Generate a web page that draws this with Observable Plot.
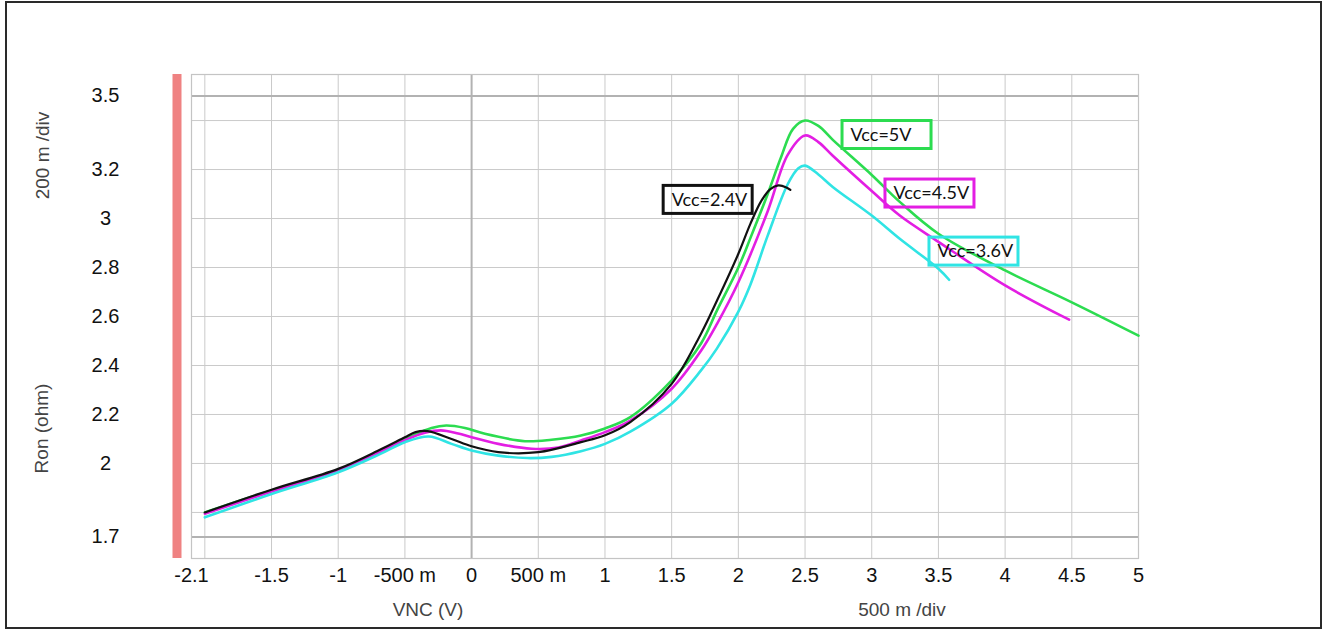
<!DOCTYPE html>
<html><head><meta charset="utf-8">
<script src="https://cdn.jsdelivr.net/npm/d3@7"></script>
<script src="https://cdn.jsdelivr.net/npm/@observablehq/plot@0.6"></script>
<style>
body{margin:0;background:#fff;}
#wrap{position:relative;width:1325px;height:631px;overflow:hidden;}
#border{position:absolute;left:5px;top:1px;width:1313px;height:624px;border:2px solid #2a2a2a;pointer-events:none;}
</style></head><body>
<div id="wrap"><div id="border"></div></div>
<script>
// tick labels
const xTicks = [-2.1, -1.5, -1, -0.5, 0, 0.5, 1, 1.5, 2, 2.5, 3, 3.5, 4, 4.5, 5];
const yTicks = [3.5, 3.2, 3, 2.8, 2.6, 2.4, 2.2, 2, 1.7];
const xGrid = [-2, -1.5, -1, -0.5, 0.5, 1, 1.5, 2, 2.5, 3, 3.5, 4, 4.5];
const yGrid = [3.4, 3.2, 3.0, 2.8, 2.6, 2.4, 2.2, 2.0, 1.8];

// series: Vcc = 5V
const vnc5 = [-2.0, -1.5, -1.0, -0.5, -0.3, -0.19, -0.05, 0.1, 0.4, 0.6, 0.82, 1.0, 1.19, 1.5, 1.72, 1.84, 2.0, 2.09, 2.22, 2.32, 2.41, 2.5, 2.6, 2.71, 3.0, 3.21, 3.5, 4.0, 4.5, 5.0];
const ron5 = [1.80, 1.89, 1.972, 2.10, 2.145, 2.155, 2.145, 2.121, 2.091, 2.097, 2.114, 2.143, 2.189, 2.339, 2.49, 2.625, 2.80, 2.92, 3.10, 3.25, 3.366, 3.40, 3.378, 3.32, 3.178, 3.068, 2.938, 2.788, 2.658, 2.522];
// Vcc = 4.5V
const vnc45 = [-2.0, -1.5, -1.0, -0.5, -0.35, -0.23, -0.1, 0, 0.2, 0.45, 0.65, 0.82, 1.0, 1.19, 1.5, 1.72, 1.84, 2.0, 2.22, 2.37, 2.5, 2.6, 2.71, 3.0, 3.21, 3.5, 4.0, 4.48];
const ron45 = [1.795, 1.885, 1.97, 2.095, 2.125, 2.135, 2.122, 2.107, 2.08, 2.06, 2.065, 2.094, 2.128, 2.175, 2.305, 2.46, 2.57, 2.74, 3.03, 3.26, 3.339, 3.312, 3.255, 3.112, 3.012, 2.905, 2.727, 2.587];
// Vcc = 3.6V
const vnc36 = [-2.0, -1.5, -1.0, -0.68, -0.5, -0.32, -0.15, 0, 0.2, 0.42, 0.6, 0.82, 1.0, 1.19, 1.5, 1.72, 1.84, 2.0, 2.09, 2.22, 2.37, 2.45, 2.5, 2.6, 2.71, 3.0, 3.21, 3.5, 3.58];
const ron36 = [1.78, 1.875, 1.964, 2.04, 2.087, 2.110, 2.08, 2.053, 2.032, 2.022, 2.027, 2.05, 2.08, 2.13, 2.244, 2.38, 2.47, 2.62, 2.73, 2.93, 3.14, 3.205, 3.216, 3.18, 3.128, 3.012, 2.917, 2.795, 2.75];
// Vcc = 2.4V
const vnc24 = [-2.0, -1.5, -1.0, -0.68, -0.5, -0.42, -0.33, -0.15, 0, 0.2, 0.5, 0.82, 1.0, 1.19, 1.5, 1.72, 1.84, 2.0, 2.09, 2.17, 2.24, 2.30, 2.36, 2.39];
const ron24 = [1.80, 1.893, 1.978, 2.058, 2.107, 2.128, 2.132, 2.10, 2.07, 2.046, 2.046, 2.087, 2.115, 2.169, 2.325, 2.53, 2.665, 2.856, 2.978, 3.07, 3.12, 3.135, 3.127, 3.117];

const seriesNames = ["Vcc=5V", "Vcc=4.5V", "Vcc=3.6V", "Vcc=2.4V"];
const seriesColors = ["#2cdc50", "#e31ee3", "#30e4e4", "#111111"];
const seriesWidths = [2.6, 2.6, 2.6, 2.2];
const seriesX = [vnc5, vnc45, vnc36, vnc24];
const seriesY = [ron5, ron45, ron36, ron24];

// label boxes (left edge, vertical centre)
const labelX = [2.781, 3.103, 3.433, 1.440];
const labelY = [3.341, 3.102, 2.865, 3.076];

const rows = seriesNames.flatMap((name, i) => seriesX[i].map((v, j) => ({series: name, vnc: v, ron: seriesY[i][j]})));
const labels = seriesNames.map((name, i) => ({name, x: labelX[i], y: labelY[i], color: seriesColors[i]}));

const fmtX = v => (v !== 0 && Math.abs(v) < 1) ? `${Math.round(v * 1000)} m` : String(v);
const font = "Liberation Sans, Arial, sans-serif";

const plot = Plot.plot({
  width: 1325, height: 631,
  marginLeft: 191, marginRight: 187, marginTop: 74, marginBottom: 73,
  x: {domain: [-2.1, 5], axis: null},
  y: {domain: [1.612, 3.588], axis: null},
  style: {fontFamily: font, background: "transparent", overflow: "visible"},
  marks: [
    Plot.ruleX(xGrid, {stroke: "#cacaca", strokeWidth: 1}),
    Plot.ruleY(yGrid, {stroke: "#cacaca", strokeWidth: 1}),
    Plot.ruleX([0], {stroke: "#b2b2b2", strokeWidth: 2}),
    Plot.ruleY([3.5, 1.7], {stroke: "#b2b2b2", strokeWidth: 2}),
    Plot.frame({stroke: "#c4c4c4", strokeWidth: 1.2}),
    Plot.ruleX([-2.1], {dx: -14.5, stroke: "#ef8282", strokeWidth: 9}),
    ...seriesNames.map((name, i) => Plot.line(rows.filter(d => d.series === name), {
      x: "vnc", y: "ron", stroke: seriesColors[i], strokeWidth: seriesWidths[i], curve: "catmull-rom"
    })),
    Plot.text(xTicks, {x: d => d, frameAnchor: "bottom", dy: 23, text: fmtX, fontSize: 20, fill: "#111"}),
    Plot.text(yTicks, {y: d => d, frameAnchor: "left", dx: -86, textAnchor: "middle", text: d => String(d), fontSize: 20, fill: "#111"}),
    Plot.text(["VNC (V)"], {frameAnchor: "bottom", dx: -237, dy: 57, fontSize: 19, fill: "#444"}),
    Plot.text(["500 m /div"], {frameAnchor: "bottom", dx: 237, dy: 57, fontSize: 19, fill: "#444"}),
    Plot.text(["200 m /div"], {frameAnchor: "top-left", dx: -149, dy: 81, rotate: -90, textAnchor: "middle", lineAnchor: "middle", fontSize: 19, fill: "#444"}),
    Plot.text(["Ron (ohm)"], {frameAnchor: "left", dx: -150, dy: 112, rotate: -90, textAnchor: "middle", lineAnchor: "middle", fontSize: 19, fill: "#444"}),
    Plot.text(labels, {x: "x", y: "y", text: "name", dx: 8, textAnchor: "start", fontFamily: "Lato, sans-serif", fontSize: 18, fill: "#111"})
  ]
});

document.getElementById("wrap").prepend(plot);

// boxes around labels, positioned via the plot's own scales
const sx = plot.scale("x"), sy = plot.scale("y");
d3.select(plot).append("g").selectAll("rect").data(labels).join("rect")
  .attr("x", d => sx.apply(d.x))
  .attr("y", d => sy.apply(d.y) - 14)
  .attr("width", 89).attr("height", 28)
  .attr("fill", "none").attr("stroke", d => d.color).attr("stroke-width", 3);
</script>
</body></html>
